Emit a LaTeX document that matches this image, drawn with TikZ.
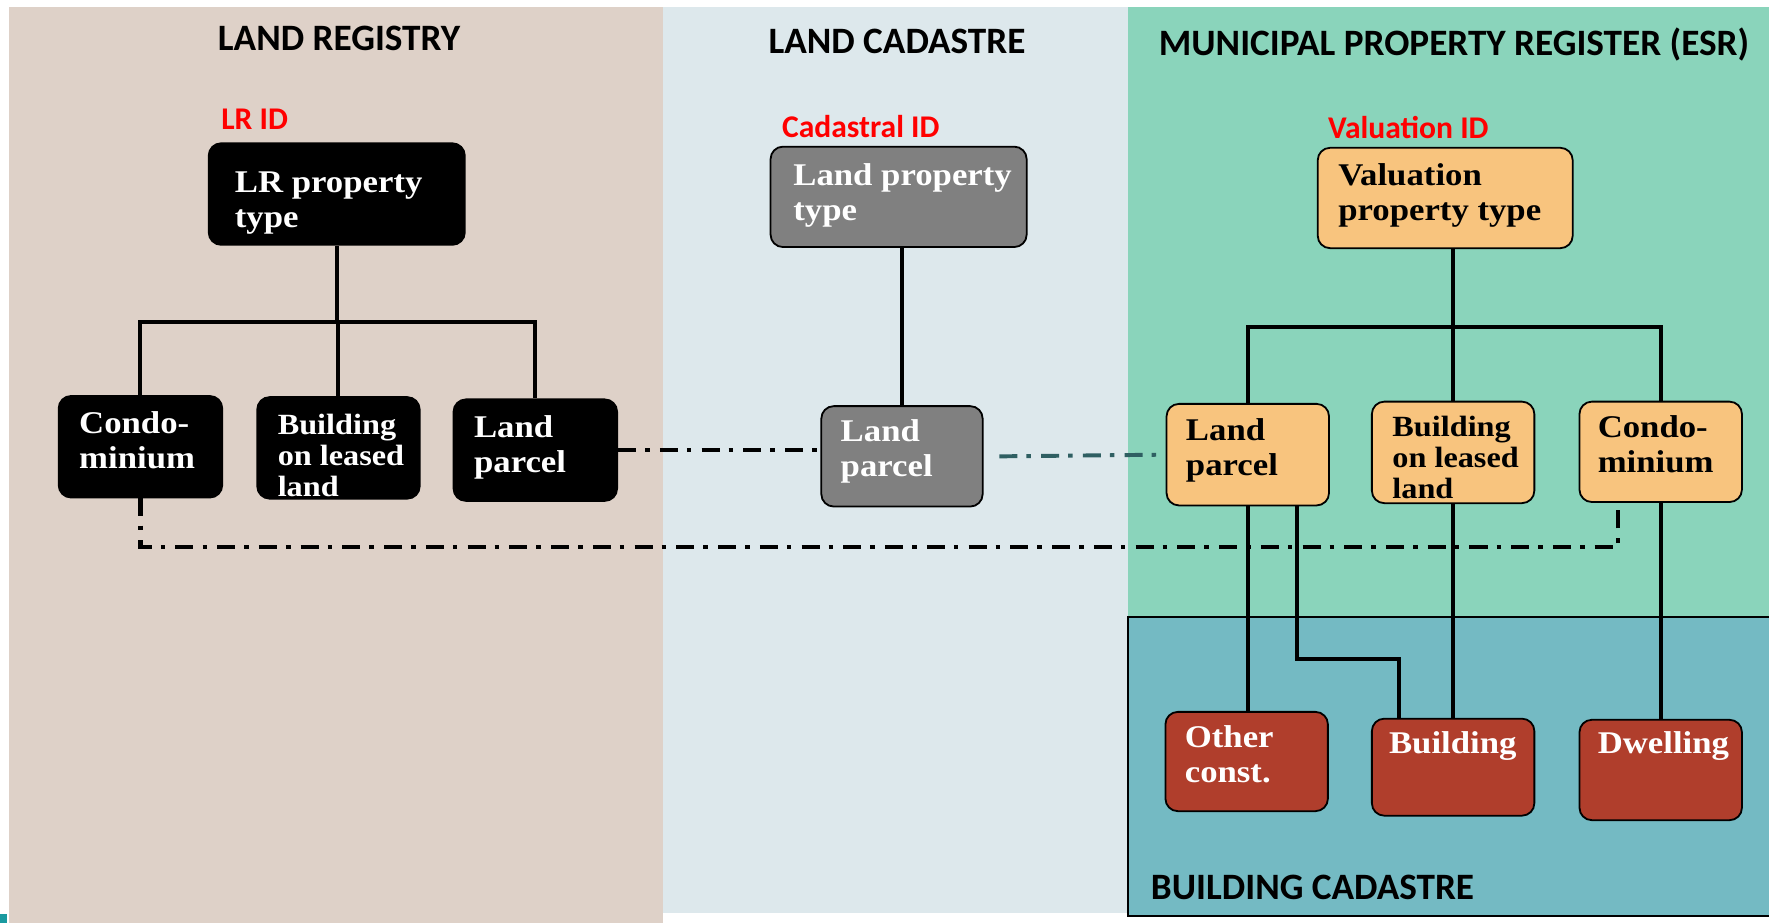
\documentclass[tikz,border=0pt]{standalone}
\usepackage{fontspec}
\setmainfont{Liberation Serif}
\newfontfamily\boxfont[FakeStretch=1.1]{Liberation Serif}
\newfontfamily\calfont{Carlito}
\usetikzlibrary{calc}
\definecolor{lrbg}{HTML}{DED1C8}
\definecolor{cadbg}{HTML}{DDE8EC}
\definecolor{esrbg}{HTML}{8AD4BB}
\definecolor{bcbg}{HTML}{74BAC3}
\definecolor{orangebox}{HTML}{F8C47E}
\definecolor{graybox}{HTML}{808080}
\definecolor{redbox}{HTML}{B03E2C}
\definecolor{idred}{HTML}{FF0000}
\definecolor{dashteal}{HTML}{2F5F62}
\definecolor{markteal}{HTML}{1A9AA0}
\tikzset{
  regbox/.style={draw=black, line width=1.6pt, rounded corners=11pt, inner sep=0pt},
  conn/.style={draw=black, line width=3.5pt},
  linkdash/.style={line width=4pt, dash pattern=on 16pt off 8pt on 4pt off 9pt},
  boxtxt/.style={inner sep=0pt, anchor=north west, align=left, font=\boxfont\bfseries\fontsize{28}{31}\selectfont},
  smalltxt/.style={inner sep=0pt, anchor=north west, align=left, font=\boxfont\bfseries\fontsize{26}{27.5}\selectfont},
  ttl/.style={inner sep=0pt, anchor=base west, font=\calfont\bfseries\fontsize{33}{36}\selectfont},
  idlbl/.style={inner sep=0pt, anchor=base west, text=idred, font=\calfont\bfseries\fontsize{28}{30}\selectfont}
}
\begin{document}
\begin{tikzpicture}[x=1pt,y=-1pt]
\useasboundingbox (0,0) rectangle (1568,818);
% panels
\fill[white] (0,0) rectangle (1568,818);
\fill[lrbg] (8,6) rectangle (588,818);
\fill[cadbg] (588,6) rectangle (1000,809);
\fill[esrbg] (1000,6) rectangle (1568,547);
\fill[bcbg] (1000,547) rectangle (1568,812);
\draw[line width=1.5pt] (1568,547) -- (1000,547) -- (1000,812) -- (1568,812);
\fill[markteal] (0,810) rectangle (6,818);

% titles
\node[ttl] (t1) at (193,45) {LAND REGISTRY};
\node[ttl] (t2) at (681,47) {LAND CADASTRE};
\node[ttl] (t3) at (1027,49) {MUNICIPAL PROPERTY REGISTER (ESR)};
\node[ttl] (t4) at (1020,797) {BUILDING CADASTRE};

% id labels
\node[idlbl] (id1) at (196,115) {LR ID};
\node[idlbl] (id2) at (693,122) {Cadastral ID};
\node[idlbl] (id3) at (1177,123) {Valuation ID};

% boxes
\node[regbox, fill=black, minimum width=227, minimum height=90] (lrt) at (298.5,172) {};
\node[regbox, fill=black, minimum width=145, minimum height=90] (lrc) at (124.5,396) {};
\node[regbox, fill=black, minimum width=144, minimum height=90] (lrb) at (300,397) {};
\node[regbox, fill=black, minimum width=145, minimum height=90] (lrl) at (474.5,399) {};
\node[regbox, fill=graybox, minimum width=227, minimum height=89] (cdt) at (796.5,174.5) {};
\node[regbox, fill=graybox, minimum width=143, minimum height=89] (cdl) at (799.5,404.5) {};
\node[regbox, fill=orangebox, minimum width=226, minimum height=89] (est) at (1281,175.5) {};
\node[regbox, fill=orangebox, minimum width=144, minimum height=90] (esl) at (1106,403) {};
\node[regbox, fill=orangebox, minimum width=144, minimum height=90] (esb) at (1288,401) {};
\node[regbox, fill=orangebox, minimum width=144, minimum height=89] (esc) at (1472,400.5) {};
\node[regbox, fill=redbox, minimum width=144, minimum height=88] (bco) at (1105,675) {};
\node[regbox, fill=redbox, minimum width=144, minimum height=86] (bcb) at (1288,680) {};
\node[regbox, fill=redbox, minimum width=144, minimum height=89] (bcd) at (1472,682.5) {};

% box texts
\node[boxtxt, text=white] (lrt-t) at (208,152) {LR property\\type};
\node[boxtxt, text=white] (lrc-t) at (70,365) {Condo-\\minium};
\node[smalltxt, text=white] (lrb-t) at (246,367) {Building\\on leased\\land};
\node[boxtxt, text=white] (lrl-t) at (420,368) {Land\\parcel};
\node[boxtxt, text=white] (cdt-t) at (703,145) {Land property\\type};
\node[boxtxt, text=white] (cdl-t) at (745,372) {Land\\parcel};
\node[boxtxt, text=black] (est-t) at (1186,145) {Valuation\\property type};
\node[boxtxt, text=black] (esl-t) at (1051,371) {Land\\parcel};
\node[smalltxt, text=black] (esb-t) at (1234,369) {Building\\on leased\\land};
\node[boxtxt, text=black] (esc-t) at (1416,368) {Condo-\\minium};
\node[boxtxt, text=white] (bco-t) at (1050,643) {Other\\const.};
\node[boxtxt, text=white] (bcb-t) at (1231,648) {Building};
\node[boxtxt, text=white] (bcd-t) at (1416,648) {Dwelling};

% hierarchy connectors
\coordinate (lrbus) at (298.5,285);
\coordinate (esbus) at (1288,290);
\draw[conn] (lrt.south) -- (lrbus);
\draw[conn] (lrc.north) -- (lrc.north |- lrbus) -- (lrl.north |- lrbus) -- (lrl.north);
\draw[conn] (lrb.north) -- (lrb.north |- lrbus);
\draw[conn] (cdl.north |- cdt.south) -- (cdl.north);
\draw[conn] (esb.north |- est.south) -- (esbus);
\draw[conn] (esl.north) -- (esl.north |- esbus) -- (esc.north |- esbus) -- (esc.north);
\draw[conn] (esb.north) -- (esb.north |- esbus);
\draw[conn] (esl.south) -- (esl.south |- bco.north);
\draw[conn] ($(esl.south east)+(-29,0)$) -- ++(0,135) -| ($(bcb.north west)+(25,0)$);
\draw[conn] (esb.south) -- (bcb.north);
\draw[conn] (esc.south) -- (bcd.north);

% dash-dot links
\draw[linkdash, black] (lrl.east) -- (lrl.east -| cdl.west);
\draw[linkdash, dashteal, line width=3.5pt] ($(cdl.east)+(14,0)$) -- (esl.west);
\draw[linkdash, black] (lrc.south) -- ($(lrc.south)+(0,43)$) -| ($(esc.south)+(-38,0)$);
\end{tikzpicture}
\end{document}
